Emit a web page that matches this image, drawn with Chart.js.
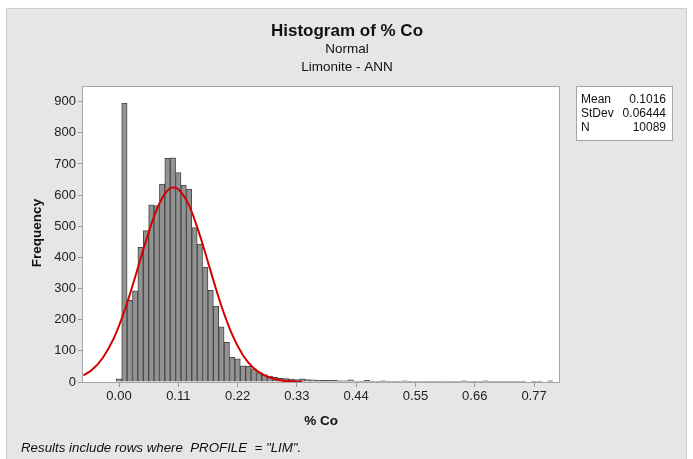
<!DOCTYPE html>
<html>
<head>
<meta charset="utf-8">
<script src="https://cdn.jsdelivr.net/npm/chart.js@4.4.1/dist/chart.umd.min.js"></script>
<style>
  body { margin: 0; background: #fff; }
  canvas { display: block; }
</style>
</head>
<body>
<canvas id="histo" width="693" height="459"></canvas>
<script>
// bin centres (% Co), bin width 0.01
var binCenters = [
  0.00, 0.01, 0.02, 0.03, 0.04, 0.05, 0.06, 0.07, 0.08, 0.09,
  0.10, 0.11, 0.12, 0.13, 0.14, 0.15, 0.16, 0.17, 0.18, 0.19,
  0.20, 0.21, 0.22, 0.23, 0.24, 0.25, 0.26, 0.27, 0.28, 0.29,
  0.30, 0.31, 0.32, 0.33, 0.34, 0.35, 0.36, 0.37, 0.38, 0.39,
  0.40, 0.41, 0.42, 0.43, 0.44, 0.45, 0.46, 0.47, 0.48, 0.49,
  0.50, 0.51, 0.52, 0.53, 0.54, 0.55, 0.56, 0.57, 0.58, 0.59,
  0.60, 0.61, 0.62, 0.63, 0.64, 0.65, 0.66, 0.67, 0.68, 0.69,
  0.70, 0.71, 0.72, 0.73, 0.74, 0.75, 0.76, 0.77, 0.78, 0.79,
  0.80
];
var frequency = [
  10, 895, 262, 293, 432, 486, 569, 566, 635, 718,
  720, 672, 632, 619, 496, 443, 369, 294, 243, 177,
  127, 79, 74, 52, 50, 42, 30, 24, 19, 15,
  12, 11, 9, 8, 10, 8, 7, 6, 5, 5,
  5, 4, 4, 7, 3, 3, 5, 2, 2, 4,
  2, 1, 2, 4, 1, 1, 1, 1, 1, 1,
  3, 1, 1, 1, 4, 1, 1, 1, 4, 1,
  1, 1, 1, 3, 1, 1, 0, 1, 1, 0,
  4
];

// fitted normal curve
var curveX = [-0.066, -0.05, -0.03, -0.01, 0.01, 0.03, 0.05, 0.07, 0.09, 0.10,
  0.11, 0.13, 0.15, 0.17, 0.19, 0.21, 0.23, 0.25, 0.27, 0.29, 0.31, 0.33, 0.34];
var curveY = [21, 39, 78, 139, 228, 337, 453, 554, 615, 624,
  619, 567, 471, 356, 244, 152, 86, 44, 21, 9, 3, 1, 0.5];

var xTicks = [0.00, 0.11, 0.22, 0.33, 0.44, 0.55, 0.66, 0.77];
var yTicks = [0, 100, 200, 300, 400, 500, 600, 700, 800, 900];

var statLabels = ['Mean', 'StDev', 'N'];
var statValues = ['0.1016', '0.06444', '10089'];

var FONT = '"Liberation Sans", Arial, sans-serif';

var barPoints = binCenters.map(function (c, i) { return { x: c, y: frequency[i] }; });
var curvePoints = curveX.map(function (c, i) { return { x: c, y: curveY[i] }; });

var decor = {
  id: 'decor',
  beforeDraw: function (chart) {
    var ctx = chart.ctx, a = chart.chartArea;
    ctx.save();
    ctx.fillStyle = '#ffffff';
    ctx.fillRect(0, 0, chart.width, chart.height);
    ctx.fillStyle = '#e6e6e6';
    ctx.fillRect(6, 8, 681, 451);
    ctx.strokeStyle = '#cfcfcf';
    ctx.lineWidth = 1;
    ctx.strokeRect(6.5, 8.5, 680, 451);
    ctx.fillStyle = '#ffffff';
    ctx.fillRect(a.left, a.top, a.right - a.left, a.bottom - a.top);
    ctx.restore();
  },
  afterDraw: function (chart) {
    var ctx = chart.ctx, a = chart.chartArea;
    ctx.save();
    // plot frame
    ctx.strokeStyle = '#a6a6a6';
    ctx.lineWidth = 1;
    ctx.strokeRect(Math.round(a.left) - 0.5, Math.round(a.top) - 0.5,
      Math.round(a.right - a.left) + 1, Math.round(a.bottom - a.top) + 1);

    // titles
    ctx.fillStyle = '#111';
    ctx.textAlign = 'center';
    ctx.textBaseline = 'middle';
    ctx.font = 'bold 17px ' + FONT;
    ctx.fillText('Histogram of % Co', 347, 31);
    ctx.font = '13.5px ' + FONT;
    ctx.fillText('Normal', 347, 49);
    ctx.fillText('Limonite - ANN', 347, 67);

    // axis titles
    ctx.font = 'bold 13.5px ' + FONT;
    ctx.fillText('% Co', (a.left + a.right) / 2, 421);
    ctx.save();
    ctx.translate(37, 233);
    ctx.rotate(-Math.PI / 2);
    ctx.fillText('Frequency', 0, 0);
    ctx.restore();

    // footer
    ctx.textAlign = 'left';
    ctx.font = 'italic 13.3px ' + FONT;
    ctx.fillText('Results include rows where  PROFILE  = "LIM".', 21, 448);

    // stats box
    ctx.fillStyle = '#ffffff';
    ctx.fillRect(576, 86, 96, 54);
    ctx.strokeStyle = '#a6a6a6';
    ctx.strokeRect(576.5, 86.5, 96, 54);
    ctx.fillStyle = '#111';
    ctx.font = '12px ' + FONT;
    for (var i = 0; i < statLabels.length; i++) {
      var y = 100 + i * 14;
      ctx.textAlign = 'left';
      ctx.fillText(statLabels[i], 581, y);
      ctx.textAlign = 'right';
      ctx.fillText(statValues[i], 666, y);
    }
    ctx.restore();
  }
};

var ctxH = document.getElementById('histo').getContext('2d');
var histo = new Chart(ctxH, {
  type: 'bar',
  data: {
    datasets: [{
      type: 'line',
      label: 'Normal fit',
      data: curvePoints,
      borderColor: '#d40000',
      borderWidth: 2,
      pointRadius: 0,
      fill: false,
      cubicInterpolationMode: 'monotone',
      order: 0
    }, {
      type: 'bar',
      label: 'Frequency',
      data: barPoints,
      backgroundColor: 'rgb(146,146,146)',
      borderColor: 'rgb(72,72,72)',
      borderWidth: 1,
      barPercentage: 1,
      categoryPercentage: 1,
      grouped: false,
      order: 1
    }]
  },
  options: {
    responsive: false,
    animation: false,
    layout: {
      padding: { left: 0, right: 134, top: 87, bottom: 0 }
    },
    plugins: {
      legend: { display: false },
      title: { display: false },
      tooltip: { enabled: false }
    },
    scales: {
      x: {
        type: 'linear',
        min: -0.0668,
        max: 0.8163,
        offset: false,
        afterFit: function (s) { s.height = 77; },
        afterBuildTicks: function (s) {
          s.ticks = xTicks.map(function (v) { return { value: v }; });
        },
        ticks: {
          color: '#222',
          font: { family: FONT, size: 13 },
          padding: 2,
          maxRotation: 0,
          callback: function (v) { return Number(v).toFixed(2); }
        },
        grid: { offset: false, drawOnChartArea: false, drawTicks: true, tickLength: 5, color: '#999' },
        border: { display: false }
      },
      y: {
        min: 0,
        max: 947,
        afterFit: function (s) { s.width = 83; },
        afterBuildTicks: function (s) {
          s.ticks = yTicks.map(function (v) { return { value: v }; });
        },
        ticks: {
          color: '#222',
          font: { family: FONT, size: 13 },
          padding: 2
        },
        grid: { drawOnChartArea: false, drawTicks: true, tickLength: 5, color: '#999' },
        border: { display: false }
      }
    }
  },
  plugins: [decor]
});
</script>
</body>
</html>
